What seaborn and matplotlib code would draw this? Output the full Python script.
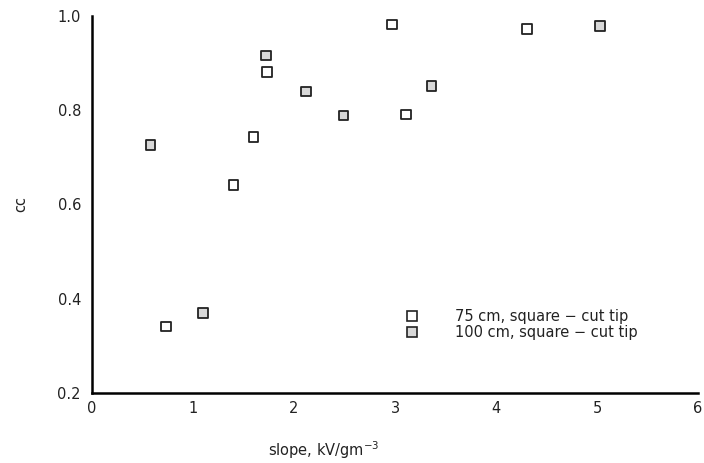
import matplotlib
matplotlib.use("Agg")
import matplotlib.pyplot as plt
import seaborn as sns
import pandas as pd
from matplotlib.lines import Line2D

series_a = "75 cm, square \u2212 cut tip"
series_b = "100 cm, square \u2212 cut tip"
x_a = [0.73, 1.40, 1.60, 1.73, 2.97, 3.11, 4.31]
y_a = [0.341, 0.641, 0.743, 0.881, 0.982, 0.791, 0.972]
x_b = [0.58, 1.10, 1.72, 2.12, 2.49, 3.36, 5.03]
y_b = [0.726, 0.370, 0.916, 0.840, 0.789, 0.852, 0.979]
x_ticks = [0, 1, 2, 3, 4, 5, 6]
y_ticks = [0.2, 0.4, 0.6, 0.8, 1.0]

df = pd.DataFrame({
    "slope": x_a + x_b,
    "cc": y_a + y_b,
    "series": [series_a] * len(x_a) + [series_b] * len(x_b),
})

sns.set_theme(style="white")
plt.rcParams["font.family"] = ["DejaVu Sans"]

fig = plt.figure(figsize=(7.04, 4.63), dpi=100)
ax = fig.add_axes([92 / 704, 1 - 393 / 463, 606 / 704, 377 / 463])

sns.scatterplot(data=df, x="slope", y="cc", hue="series",
                palette={series_a: "white", series_b: "#d8d8d8"},
                marker="s", s=48, edgecolor="#222222", linewidth=1.3,
                ax=ax, legend=False, zorder=3, clip_on=False)

ax.set_xlim(0, 6)
ax.set_ylim(0.2, 1.0)
ax.set_xticks(x_ticks)
ax.set_xticklabels([str(t) for t in x_ticks])
ax.set_yticks(y_ticks)
ax.set_yticklabels([f"{t:.1f}" for t in y_ticks])

for s in ["top", "right"]:
    ax.spines[s].set_visible(False)
for s in ["left", "bottom"]:
    ax.spines[s].set_linewidth(1.8)
    ax.spines[s].set_color("black")

ax.tick_params(axis="both", direction="in", length=5, width=1, colors="black",
               labelsize=10.5, labelcolor="#222222")
ax.tick_params(axis="x", pad=6)
ax.tick_params(axis="y", pad=8)

ax.set_xlabel("slope, kV/gm$^{-3}$", fontsize=10.5, color="#222222")
ax.xaxis.set_label_coords((324 - 92) / 606, -(439 - 393) / 377)
ax.set_ylabel("cc", fontsize=10.5, color="#222222")
ax.yaxis.set_label_coords(-(92 - 28) / 606, 0.5)

handles = [
    Line2D([], [], marker="s", linestyle="none", markersize=6.5,
           markerfacecolor="white", markeredgecolor="#222222", markeredgewidth=1.2),
    Line2D([], [], marker="s", linestyle="none", markersize=6.5,
           markerfacecolor="#d8d8d8", markeredgecolor="#222222", markeredgewidth=1.2),
]
ax.legend(handles, [series_a, series_b], frameon=False, loc="upper left",
          bbox_to_anchor=((395 - 92) / 606, 1 - (303 - 16) / 377),
          handletextpad=2.2, labelspacing=0.1, fontsize=10.5, borderaxespad=0,
          handlelength=1.5, labelcolor="#222222")

fig.savefig("out.png", dpi=100)
